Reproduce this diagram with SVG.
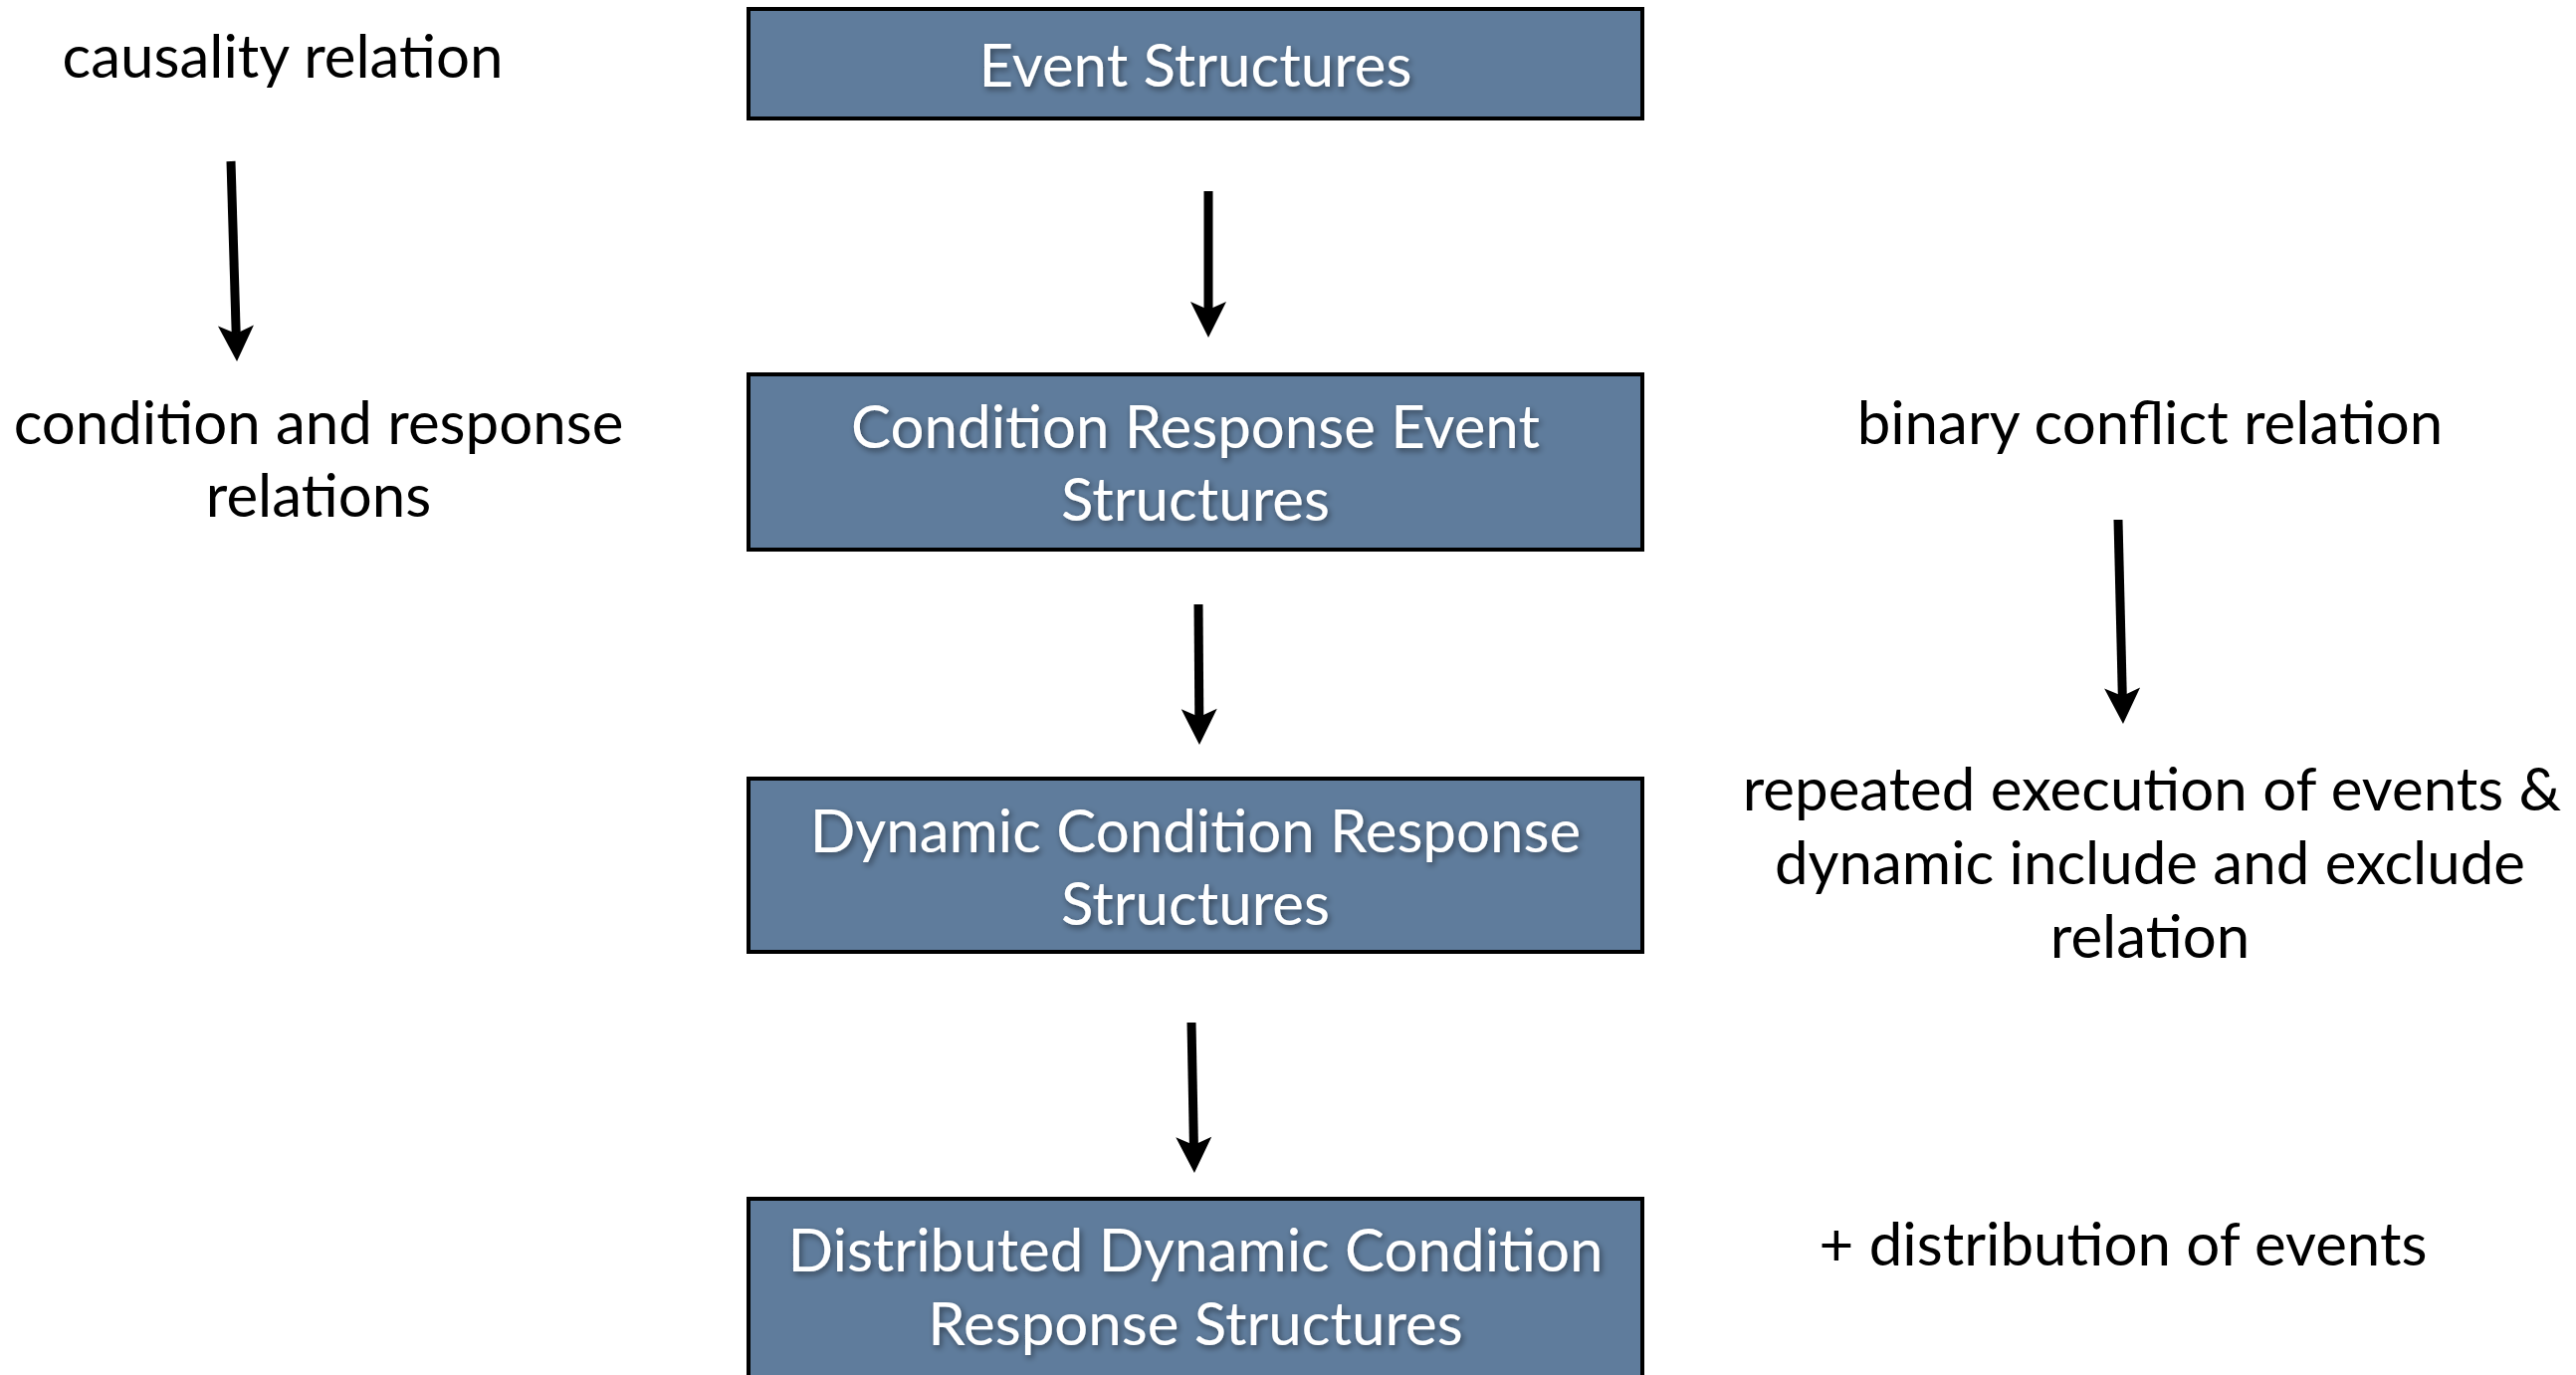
<svg xmlns="http://www.w3.org/2000/svg" width="2588" height="1381" viewBox="0 0 2588 1381">
<defs>
<style>
.box{fill:#5f7c9c;stroke:#000;stroke-width:4}
.bt{font-family:Lato,"Open Sans",sans-serif;font-size:60px;fill:#fff;text-anchor:middle;filter:url(#sh)}
.lt{font-family:Lato,"Open Sans",sans-serif;font-size:60px;fill:#000;text-anchor:middle}
.arr{stroke:#000;stroke-width:9;fill:none;marker-end:url(#ah)}
</style>
<filter id="sh" x="-10%" y="-30%" width="120%" height="160%">
<feDropShadow dx="2" dy="3" stdDeviation="3" flood-color="#000" flood-opacity="0.45"/>
</filter>
<marker id="ah" viewBox="0 0 36 36" refX="8" refY="18" markerWidth="36" markerHeight="36" markerUnits="userSpaceOnUse" orient="auto" overflow="visible">
<path d="M0,0 L36,18 L0,36 L8,18 Z" fill="#000"/>
</marker>
</defs>
<g id="node-event-structures">
<rect class="box" x="752" y="9" width="898" height="110"/>
<text class="bt" x="1201" y="87">Event Structures</text>
</g>
<g id="node-cres">
<rect class="box" x="752" y="376" width="898" height="176"/>
<text class="bt" x="1201" y="450">Condition Response Event</text>
<text class="bt" x="1201" y="523">Structures</text>
</g>
<g id="node-dcrs">
<rect class="box" x="752" y="782" width="898" height="174"/>
<text class="bt" x="1201" y="856">Dynamic Condition Response</text>
<text class="bt" x="1201" y="929">Structures</text>
</g>
<g id="node-ddcrs">
<rect class="box" x="752" y="1204" width="898" height="200"/>
<text class="bt" x="1201" y="1277">Distributed Dynamic Condition</text>
<text class="bt" x="1201" y="1351">Response Structures</text>
</g>
<g id="node-causality">
<text class="lt" x="284" y="78">causality relation</text>
</g>
<g id="node-cond-resp">
<text class="lt" x="320" y="446">condition and response</text>
<text class="lt" x="320" y="519">relations</text>
</g>
<g id="node-binary">
<text class="lt" x="2160" y="446">binary conflict relation</text>
</g>
<g id="node-repeated">
<text class="lt" x="2162" y="814">repeated execution of events &amp;</text>
<text class="lt" x="2160" y="888">dynamic include and exclude</text>
<text class="lt" x="2160" y="962">relation</text>
</g>
<g id="node-distribution">
<text class="lt" x="2133" y="1271">+ distribution of events</text>
</g>
<g id="connectors">
<line class="arr" x1="232" y1="162" x2="237.2" y2="335"/>
<line class="arr" x1="1214" y1="192" x2="1214" y2="311"/>
<line class="arr" x1="1204" y1="607" x2="1204.8" y2="720"/>
<line class="arr" x1="1197" y1="1027" x2="1199.4" y2="1150"/>
<line class="arr" x1="2128" y1="522" x2="2132.3" y2="699"/>
</g>
</svg>
